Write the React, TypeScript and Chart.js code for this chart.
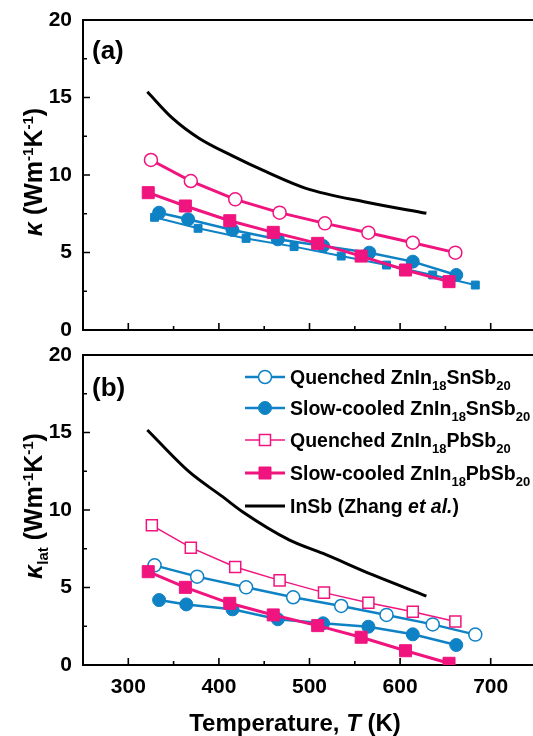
import React, { useEffect, useRef } from "react";
import { Chart, registerables } from "chart.js";
Chart.register(...registerables);

const FONT = '"Liberation Sans", Arial, Helvetica, sans-serif';
const BLUE = "#0e82c5";
const PINK = "#f0147f";

const xTicks = [300, 400, 500, 600, 700];
const yTicks = [0, 5, 10, 15, 20];

// Panel (a): total thermal conductivity
const aSnQuenchT = [329, 377, 430, 483, 535, 585, 636, 683];
const aSnQuenchK = [7.27, 6.56, 5.91, 5.38, 4.77, 4.19, 3.55, 2.9];
const aSnSlowT = [334, 366, 415, 465, 515, 566, 614, 662];
const aSnSlowK = [7.57, 7.14, 6.45, 5.85, 5.42, 4.99, 4.41, 3.55];
const aPbSlowT = [322, 363, 412, 460, 509, 557, 606, 654];
const aPbSlowK = [8.86, 8.0, 7.05, 6.3, 5.59, 4.77, 3.87, 3.12];
const aPbQuenchT = [325, 369, 418, 467, 517, 565, 614, 661];
const aPbQuenchK = [10.97, 9.61, 8.43, 7.57, 6.88, 6.28, 5.63, 4.99];
const aInSbT = [321, 349, 378, 415, 452, 496, 563, 629];
const aInSbK = [15.37, 13.65, 12.37, 11.23, 10.21, 9.14, 8.24, 7.53];

// Panel (b): lattice thermal conductivity
const bSnQuenchT = [329, 376, 430, 482, 535, 585, 636, 683];
const bSnQuenchK = [6.43, 5.7, 5.01, 4.37, 3.81, 3.23, 2.62, 1.96];
const bSnSlowT = [334, 364, 415, 465, 515, 565, 614, 662];
const bSnSlowK = [4.19, 3.91, 3.59, 2.95, 2.69, 2.47, 1.98, 1.29];
const bPbQuenchT = [326, 369, 418, 467, 516, 565, 614, 661];
const bPbQuenchK = [9.01, 7.57, 6.32, 5.46, 4.67, 4.02, 3.44, 2.8];
const bPbSlowT = [322, 363, 412, 460, 509, 557, 606, 654];
const bPbSlowK = [6.02, 5.01, 3.98, 3.23, 2.54, 1.79, 0.92, 0.11];
const bInSbT = [321, 367, 404, 426, 478, 515, 570, 629];
const bInSbK = [15.16, 12.47, 10.86, 9.89, 8.06, 7.2, 5.81, 4.45];

type Seg = { t: string; size?: number; italic?: boolean; dy?: number };

const legendLabels: Seg[][] = [
  [{ t: "Quenched ZnIn" }, { t: "18", size: 13, dy: 6 }, { t: "SnSb" }, { t: "20", size: 13, dy: 6 }],
  [{ t: "Slow-cooled ZnIn" }, { t: "18", size: 13, dy: 6 }, { t: "SnSb" }, { t: "20", size: 13, dy: 6 }],
  [{ t: "Quenched ZnIn" }, { t: "18", size: 13, dy: 6 }, { t: "PbSb" }, { t: "20", size: 13, dy: 6 }],
  [{ t: "Slow-cooled ZnIn" }, { t: "18", size: 13, dy: 6 }, { t: "PbSb" }, { t: "20", size: 13, dy: 6 }],
  [{ t: "InSb (Zhang " }, { t: "et al.", italic: true }, { t: ")" }],
];

const yTitleA: Seg[] = [
  { t: "κ", italic: true }, { t: " (Wm" }, { t: "-1", size: 15, dy: -9 }, { t: "K" }, { t: "-1", size: 15, dy: -9 }, { t: ")" },
];
const yTitleB: Seg[] = [
  { t: "κ", italic: true }, { t: "lat", size: 15, dy: 6 }, { t: " (Wm" }, { t: "-1", size: 15, dy: -9 }, { t: "K" }, { t: "-1", size: 15, dy: -9 }, { t: ")" },
];
const xTitle: Seg[] = [{ t: "Temperature, " }, { t: "T", italic: true }, { t: " (K)" }];

function segFont(s: Seg, base: number) {
  return `${s.italic ? "italic " : ""}bold ${s.size ?? base}px ${FONT}`;
}
function drawRich(ctx: CanvasRenderingContext2D, segs: Seg[], x: number, y: number, base: number, align: "left" | "center") {
  ctx.save();
  ctx.textBaseline = "alphabetic";
  ctx.textAlign = "left";
  ctx.fillStyle = "#000";
  let w = 0;
  for (const s of segs) {
    ctx.font = segFont(s, base);
    w += ctx.measureText(s.t).width;
  }
  let cx = align === "center" ? x - w / 2 : x;
  const baseline = y + base * 0.36;
  for (const s of segs) {
    ctx.font = segFont(s, base);
    ctx.fillText(s.t, cx, baseline + (s.dy ?? 0));
    cx += ctx.measureText(s.t).width;
  }
  ctx.restore();
}

function drawMarker(ctx: CanvasRenderingContext2D, style: string, r: number, x: number, y: number, fill: string, stroke: string, bw: number) {
  ctx.save();
  ctx.beginPath();
  if (style === "circle") {
    ctx.arc(x, y, r, 0, Math.PI * 2);
  } else {
    const s = Math.SQRT1_2 * r;
    ctx.rect(x - s, y - s, 2 * s, 2 * s);
  }
  ctx.fillStyle = fill;
  ctx.fill();
  ctx.lineWidth = bw;
  ctx.strokeStyle = stroke;
  ctx.stroke();
  ctx.restore();
}

const pts = (T: number[], K: number[]) => T.map((t, i) => ({ x: t, y: K[i] }));

function series(label: string, T: number[], K: number[], color: string, style: string, r: number, open: boolean, lw: number, order: number) {
  return {
    label,
    data: pts(T, K),
    borderColor: color,
    backgroundColor: open ? "#ffffff" : color,
    pointBackgroundColor: open ? "#ffffff" : color,
    pointBorderColor: color,
    pointBorderWidth: open ? 1.5 : 1,
    pointStyle: style,
    pointRadius: r,
    borderWidth: lw,
    tension: 0,
    order,
  };
}
function insb(T: number[], K: number[]) {
  return {
    label: "InSb (Zhang et al.)",
    data: pts(T, K),
    borderColor: "#000",
    backgroundColor: "#000",
    borderWidth: 3,
    pointRadius: 0,
    cubicInterpolationMode: "monotone",
    order: 10,
  };
}

const frameTicks = {
  id: "frameTicks",
  beforeDatasetsDraw(chart: any) {
    const { ctx, chartArea, scales } = chart;
    const { left, right, top, bottom } = chartArea;
    const x = scales.x;
    const y = scales.y;
    ctx.save();
    ctx.strokeStyle = "#000";
    ctx.lineWidth = 2;
    ctx.beginPath();
    ctx.moveTo(right, top);
    ctx.lineTo(left, top);
    ctx.lineTo(left, bottom);
    ctx.lineTo(right, bottom);
    ctx.stroke();
    ctx.lineWidth = 1.6;
    ctx.beginPath();
    for (let v = x.min; v <= x.max; v += 50) {
      const px = x.getPixelForValue(v);
      const len = v % 100 === 0 ? 7 : 4;
      ctx.moveTo(px, bottom);
      ctx.lineTo(px, bottom - len);
    }
    for (let v = y.min; v <= y.max; v += 2.5) {
      const py = y.getPixelForValue(v);
      const len = v % 5 === 0 ? 7 : 4;
      ctx.moveTo(left, py);
      ctx.lineTo(left + len, py);
    }
    ctx.stroke();
    ctx.restore();
  },
};

const legendStyles = [
  { color: BLUE, style: "circle", r: 6.5, open: true, lw: 2.5 },
  { color: BLUE, style: "circle", r: 6.5, open: false, lw: 2.5 },
  { color: PINK, style: "rect", r: 7.8, open: true, lw: 1.5 },
  { color: PINK, style: "rect", r: 8.5, open: false, lw: 3 },
  { color: "#000", style: "none", r: 0, open: false, lw: 3 },
];

function annot(panel: "a" | "b") {
  return {
    id: "annot" + panel,
    afterDraw(chart: any) {
      const ctx: CanvasRenderingContext2D = chart.ctx;
      if (panel === "a") {
        drawRich(ctx, [{ t: "(a)" }], 92, 50, 26, "left");
        ctx.save();
        ctx.translate(33, 172);
        ctx.rotate(-Math.PI / 2);
        drawRich(ctx, yTitleA, 0, 0, 25, "center");
        ctx.restore();
      } else {
        drawRich(ctx, [{ t: "(b)" }], 92, 47, 26, "left");
        ctx.save();
        ctx.translate(33, 166);
        ctx.rotate(-Math.PI / 2);
        drawRich(ctx, yTitleB, 0, 0, 25, "center");
        ctx.restore();
        drawRich(ctx, xTitle, 295, 382, 24, "center");
        const rows = [37, 68, 100, 133, 166];
        legendLabels.forEach((segs, i) => {
          const st = legendStyles[i];
          const yy = rows[i];
          ctx.save();
          ctx.strokeStyle = st.color;
          ctx.lineWidth = st.lw;
          ctx.beginPath();
          ctx.moveTo(245, yy);
          ctx.lineTo(285, yy);
          ctx.stroke();
          ctx.restore();
          if (st.style !== "none") {
            drawMarker(ctx, st.style, st.r, 265, yy, st.open ? "#fff" : st.color, st.color, st.open ? 1.5 : 1);
          }
          drawRich(ctx, segs, 290, yy, 19.5, "left");
        });
      }
    },
  };
}

function zeroPad(s: any) {
  s.paddingTop = 0;
  s.paddingBottom = 0;
  s.paddingLeft = 0;
  s.paddingRight = 0;
}

function makeOptions(panel: "a" | "b") {
  return {
    responsive: false,
    animation: false,
    layout: { padding: { top: panel === "a" ? 20 : 15, right: 24, left: 0, bottom: 0 } },
    plugins: { legend: { display: false }, tooltip: { enabled: false } },
    scales: {
      x: {
        type: "linear",
        min: 250,
        max: 750,
        grid: { display: false, drawTicks: false },
        border: { display: false },
        ticks: {
          display: panel === "b",
          padding: 10,
          color: "#000",
          maxRotation: 0,
          font: { family: FONT, size: 21, weight: "bold" },
        },
        afterBuildTicks: (s: any) => {
          s.ticks = xTicks.map((v) => ({ value: v }));
        },
        afterFit: (s: any) => {
          s.height = panel === "a" ? 10 : 71;
          zeroPad(s);
        },
      },
      y: {
        min: 0,
        max: 20,
        grid: { display: false, drawTicks: false },
        border: { display: false },
        ticks: {
          padding: 11,
          color: "#000",
          font: { family: FONT, size: 21, weight: "bold" },
        },
        afterBuildTicks: (s: any) => {
          s.ticks = yTicks.map((v) => ({ value: v }));
        },
        afterFit: (s: any) => {
          s.width = 83;
          zeroPad(s);
        },
      },
    },
  };
}

export default function App() {
  const refA = useRef<HTMLCanvasElement>(null);
  const refB = useRef<HTMLCanvasElement>(null);
  useEffect(() => {
    document.body.style.overflow = "hidden";
    const a = new Chart(refA.current as HTMLCanvasElement, {
      type: "line",
      data: {
        datasets: [
          series("Slow-cooled ZnIn18PbSb20", aPbSlowT, aPbSlowK, PINK, "rect", 8.5, false, 3, 1),
          series("Quenched ZnIn18PbSb20", aPbQuenchT, aPbQuenchK, PINK, "circle", 6.5, true, 3, 2),
          series("Slow-cooled ZnIn18SnSb20", aSnSlowT, aSnSlowK, BLUE, "circle", 6.5, false, 2.5, 3),
          series("Quenched ZnIn18SnSb20", aSnQuenchT, aSnQuenchK, BLUE, "rect", 5.6, false, 2, 4),
          insb(aInSbT, aInSbK),
        ] as any,
      },
      options: makeOptions("a") as any,
      plugins: [frameTicks, annot("a")],
    });
    const b = new Chart(refB.current as HTMLCanvasElement, {
      type: "line",
      data: {
        datasets: [
          series("Slow-cooled ZnIn18PbSb20", bPbSlowT, bPbSlowK, PINK, "rect", 8.5, false, 3, 1),
          series("Quenched ZnIn18PbSb20", bPbQuenchT, bPbQuenchK, PINK, "rect", 7.8, true, 1.5, 2),
          series("Slow-cooled ZnIn18SnSb20", bSnSlowT, bSnSlowK, BLUE, "circle", 6.5, false, 2.5, 3),
          series("Quenched ZnIn18SnSb20", bSnQuenchT, bSnQuenchK, BLUE, "circle", 6.5, true, 2.5, 4),
          insb(bInSbT, bInSbK),
        ] as any,
      },
      options: makeOptions("b") as any,
      plugins: [frameTicks, annot("b")],
    });
    return () => {
      a.destroy();
      b.destroy();
    };
  }, []);
  return (
    <div style={{ position: "absolute", left: 0, top: 0, width: 560, height: 736 }}>
      <canvas ref={refA} width={560} height={340} style={{ position: "absolute", left: 0, top: 0 }} />
      <canvas ref={refB} width={560} height={396} style={{ position: "absolute", left: 0, top: 340 }} />
    </div>
  );
}
